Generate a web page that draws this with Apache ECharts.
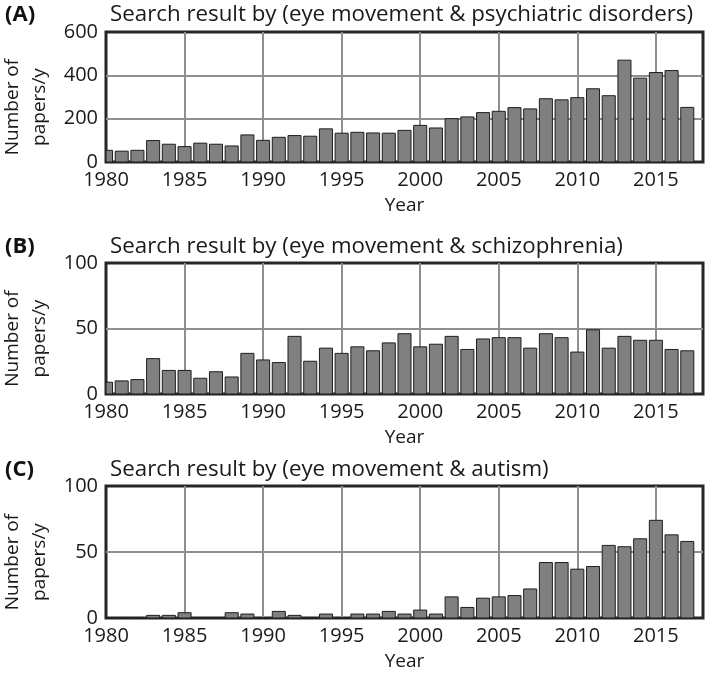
<!DOCTYPE html>
<html>
<head>
<meta charset="utf-8">
<script src="https://cdn.jsdelivr.net/npm/echarts@6/dist/echarts.min.js"></script>
<style>
  html, body { margin: 0; padding: 0; background: #fff; }
  #chart { width: 709px; height: 674px; }
</style>
</head>
<body>
<div id="chart"></div>
<script>
const years = [1980, 1981, 1982, 1983, 1984, 1985, 1986, 1987, 1988, 1989,
  1990, 1991, 1992, 1993, 1994, 1995, 1996, 1997, 1998, 1999,
  2000, 2001, 2002, 2003, 2004, 2005, 2006, 2007, 2008, 2009,
  2010, 2011, 2012, 2013, 2014, 2015, 2016, 2017]

// papers per year
const psychiatric = [54, 50, 54, 99, 82, 71, 87, 82, 74, 125,
  100, 114, 122, 119, 153, 133, 137, 134, 133, 146,
  169, 157, 200, 208, 228, 234, 251, 245, 292, 287,
  297, 338, 306, 470, 387, 413, 422, 252]
const schizophrenia = [9, 10, 11, 27, 18, 18, 12, 17, 13, 31,
  26, 24, 44, 25, 35, 31, 36, 33, 39, 46,
  36, 38, 44, 34, 42, 43, 43, 35, 46, 43,
  32, 49, 35, 44, 41, 41, 34, 33]
const autism = [0, 0, 0, 2, 2, 4, 0, 0, 4, 3,
  0, 5, 2, 0, 3, 0, 3, 3, 5, 3,
  6, 3, 16, 8, 15, 16, 17, 22, 42, 42,
  37, 39, 55, 54, 60, 74, 63, 58]

const panelLabels = ['(A)', '(B)', '(C)']
const titles = [
  'Search result by (eye movement & psychiatric disorders)',
  'Search result by (eye movement & schizophrenia)',
  'Search result by (eye movement & autism)'
]
const yMax = [600, 100, 100]
const yStep = [200, 50, 50]

const font = '"Open Sans", sans-serif'
const textColor = '#1a1a1a'
const gridTops = [32, 263, 486]
const gridHeights = [130, 131, 132]
const titleY = [15, 247, 470]

const chart = echarts.init(document.getElementById('chart'))

const seriesData = [psychiatric, schizophrenia, autism]

// bar drawn through the axes, cut at the plot frame (the 1980 bar is half outside)
const renderBar = (params, api) => {
  const year = api.value(0)
  const top = api.coord([year, api.value(1)])
  const base = api.coord([year, 0])
  const w = api.size([1, 0])[0] * 0.83
  const cs = params.coordSys
  const shape = echarts.graphic.clipRectByRect(
    { x: top[0] - w / 2, y: top[1], width: w, height: base[1] - top[1] },
    { x: cs.x, y: cs.y, width: cs.width, height: cs.height }
  )
  if (!shape) return null
  return {
    type: 'rect',
    shape: shape,
    style: { fill: '#808080', stroke: '#1e1e1e', lineWidth: 1 }
  }
}

const grids = []
const xAxes = []
const yAxes = []
const series = []
const graphics = []

seriesData.forEach((vals, i) => {
  grids.push({
    left: 106,
    top: gridTops[i],
    width: 597,
    height: gridHeights[i],
    show: true,
    borderColor: '#262626',
    borderWidth: 3,
    backgroundColor: '#fff'
  })
  xAxes.push({
    type: 'value',
    gridIndex: i,
    min: 1980,
    max: 2018,
    interval: 5,
    name: 'Year',
    nameLocation: 'middle',
    nameGap: 34,
    nameTextStyle: { fontFamily: font, fontSize: 19, color: textColor },
    axisLine: { show: false },
    axisTick: { show: false },
    axisLabel: {
      fontFamily: font,
      fontSize: 20,
      color: textColor,
      margin: 8,
      showMaxLabel: false,
      formatter: v => String(v)
    },
    splitLine: {
      show: true,
      showMinLine: false,
      showMaxLine: false,
      lineStyle: { color: '#8f8f8f', width: 2 }
    }
  })
  yAxes.push({
    type: 'value',
    gridIndex: i,
    min: 0,
    max: yMax[i],
    interval: yStep[i],
    axisLine: { show: false },
    axisTick: { show: false },
    axisLabel: { fontFamily: font, fontSize: 20, color: textColor, margin: 8 },
    splitLine: {
      show: true,
      showMinLine: false,
      showMaxLine: false,
      lineStyle: { color: '#8f8f8f', width: 2 }
    }
  })
  series.push({
    type: 'custom',
    xAxisIndex: i,
    yAxisIndex: i,
    renderItem: renderBar,
    encode: { x: 0, y: 1 },
    data: years.map((y, k) => [y, vals[k]])
  })
  graphics.push({
    type: 'text',
    x: 5,
    y: titleY[i],
    style: {
      text: panelLabels[i],
      font: 'bold 22px ' + font,
      fill: '#111',
      textVerticalAlign: 'middle',
      verticalAlign: 'middle'
    }
  })
  graphics.push({
    type: 'text',
    x: 110,
    y: titleY[i],
    style: {
      text: titles[i],
      font: '22.3px ' + font,
      fill: textColor,
      textVerticalAlign: 'middle',
      verticalAlign: 'middle'
    }
  })
  graphics.push({
    type: 'text',
    x: 26,
    y: gridTops[i] + gridHeights[i] / 2 + 10,
    rotation: Math.PI / 2,
    style: {
      text: 'Number of\npapers/y',
      font: '19px ' + font,
      lineHeight: 27,
      fill: textColor,
      textAlign: 'center',
      align: 'center',
      textVerticalAlign: 'middle',
      verticalAlign: 'middle'
    }
  })
})

chart.setOption({
  animation: false,
  grid: grids,
  xAxis: xAxes,
  yAxis: yAxes,
  series: series,
  graphic: graphics
})
</script>
</body>
</html>
